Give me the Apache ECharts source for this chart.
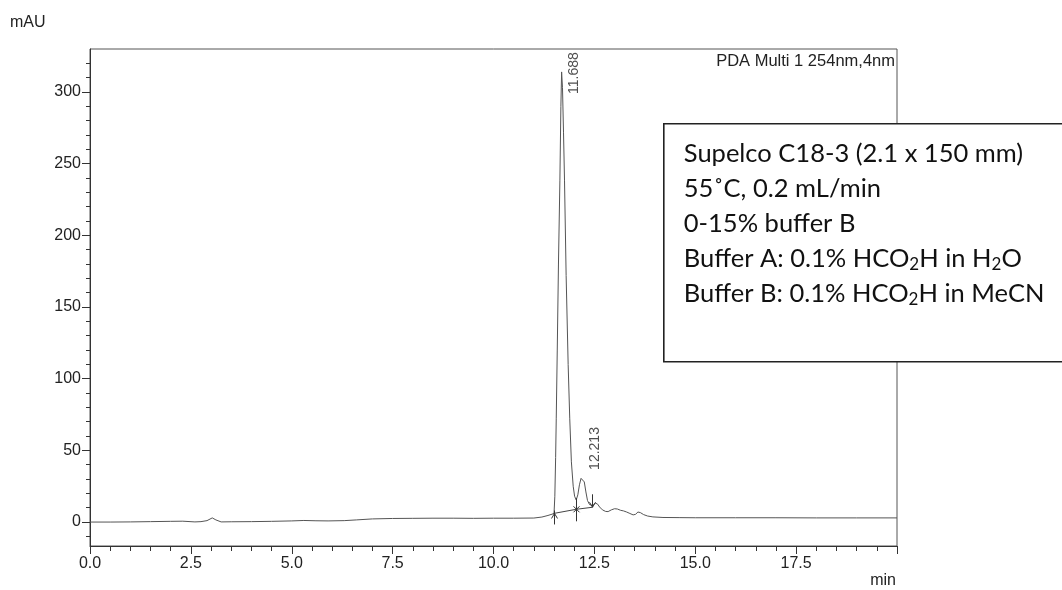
<!DOCTYPE html>
<html>
<head>
<meta charset="utf-8">
<script src="https://cdn.jsdelivr.net/npm/echarts@6/dist/echarts.min.js"></script>
<style>
  html, body { margin: 0; padding: 0; background: #fff; }
  #chart { width: 1062px; height: 590px; }
</style>
</head>
<body>
<div id="chart"></div>
<script>
// PDA 254 nm trace: retention time (min) and absorbance (mAU)
const times = [
  0.0, 0.5, 1.0, 1.5, 2.0, 2.3, 2.6, 2.75, 2.9, 3.03, 3.12, 3.25, 3.5, 4.0, 4.5,
  5.0, 5.3, 5.6, 5.9, 6.3, 6.6, 7.0, 7.5, 8.0, 8.5, 9.0, 9.5, 10.0, 10.5, 11.0,
  11.2, 11.35, 11.45, 11.5, 11.52, 11.54, 11.555, 11.58, 11.61, 11.645, 11.67,
  11.688, 11.71, 11.735, 11.76, 11.8, 11.85, 11.89, 11.93, 11.975, 12.01, 12.05,
  12.09, 12.13, 12.17, 12.213, 12.25, 12.29, 12.33, 12.38, 12.43, 12.48, 12.53,
  12.58, 12.63, 12.7, 12.78, 12.84, 12.92, 13.0, 13.07, 13.15, 13.22, 13.3, 13.38,
  13.46, 13.52, 13.58, 13.64, 13.72, 13.82, 13.95, 14.2, 14.6, 15.0, 16.0, 17.0,
  18.0, 19.0, 20.0
];
const mAU = [
  0.0, 0.0, 0.1, 0.3, 0.5, 0.6, 0.1, 0.3, 1.0, 2.9, 1.5, 0.1, 0.2, 0.3, 0.5,
  0.8, 1.1, 0.9, 0.8, 1.0, 1.5, 2.2, 2.5, 2.6, 2.7, 2.7, 2.6, 2.7, 2.7, 2.8,
  3.5, 4.6, 5.5, 6.0, 18, 45, 72, 120, 180, 238, 290,
  314, 303, 272, 238, 172, 110, 72, 42, 25, 18, 15.4,
  19, 26, 30.5, 31.5, 28, 21, 15, 12.2, 11.8, 12.3, 13.2,
  12.5, 10.5, 8.5, 7.4, 7.3, 8.5, 9.3, 9.1, 8.2, 7.8, 7.0, 6.0,
  5.0, 5.4, 7.0, 6.6, 5.2, 4.2, 3.6, 3.2, 3.1, 3.0, 3.0, 3.0,
  2.9, 2.9, 2.9
];

// Integrated peaks (retention time, apex height)
const peakTimes = [11.688, 12.213];
const peakHeights = [314, 31.5];

// Integration baseline with its start / split / end marks
const baseTimes = [11.49, 12.05, 12.45];
const baseLevels = [6.0, 8.9, 10.3];
const markKinds = ['start', 'split', 'end'];

// Axis ticks and labels
const xLabelValues = [0, 2.5, 5, 7.5, 10, 12.5, 15, 17.5];
const xMajorTicks = [0, 2.5, 5, 7.5, 10, 12.5, 15, 17.5, 20];
const xMinorTicks = [0, 0.5, 1, 1.5, 2, 2.5, 3, 3.5, 4, 4.5, 5, 5.5, 6, 6.5, 7, 7.5, 8, 8.5, 9, 9.5,
  10, 10.5, 11, 11.5, 12, 12.5, 13, 13.5, 14, 14.5, 15, 15.5, 16, 16.5, 17, 17.5, 18, 18.5, 19, 19.5, 20];
const yLabelValues = [0, 50, 100, 150, 200, 250, 300];
const yMinorTicks = [-10, 0, 10, 20, 30, 40, 50, 60, 70, 80, 90, 100, 110, 120, 130, 140, 150, 160,
  170, 180, 190, 200, 210, 220, 230, 240, 250, 260, 270, 280, 290, 300, 310, 320];

const conditionLines = [
  'Supelco C18-3 (2.1 x 150 mm)',
  '55˚C, 0.2 mL/min',
  '0-15% buffer B',
  'Buffer A: 0.1% HCO{s|2}H in H{s|2}O',
  'Buffer B: 0.1% HCO{s|2}H in MeCN'
];

// label placement (pixels from the apex) for each peak's retention-time label
const peakLabelOffsets = [[13, 22], [12, -7]];

const trace = times.map((t, i) => [t, mAU[i]]);
const peaks = peakTimes.map((t, i) => ({
  value: [t, peakHeights[i]],
  label: { position: peakLabelOffsets[i] }
}));
const baseline = baseTimes.map((t, i) => [t, baseLevels[i]]);

const AX = '#333';
const FONT = '"Liberation Sans", Arial, sans-serif';
const X_MIN = 0, X_MAX = 20, Y_MIN = -16.7, Y_MAX = 330;

const chart = echarts.init(document.getElementById('chart'), null, { renderer: 'canvas' });

function axisBase() {
  return { type: 'value', splitLine: { show: false }, axisLine: { show: false, onZero: false } };
}

chart.setOption({
  animation: false,
  backgroundColor: '#fff',
  grid: { left: 90, right: 165, top: 49, bottom: 44, show: true, borderColor: '#555', borderWidth: 1 },
  xAxis: [
    Object.assign(axisBase(), {
      min: X_MIN, max: X_MAX, position: 'bottom',
      axisLine: { show: true, onZero: false, lineStyle: { color: AX, width: 1 } },
      axisTick: { show: true, length: 8, customValues: xMajorTicks, lineStyle: { color: AX } },
      axisLabel: { customValues: xLabelValues, margin: 10, color: '#222', fontSize: 16, fontFamily: FONT,
        formatter: v => v.toFixed(1) }
    }),
    Object.assign(axisBase(), {
      min: X_MIN, max: X_MAX, position: 'bottom',
      axisTick: { show: true, length: 5, customValues: xMinorTicks, lineStyle: { color: AX } },
      axisLabel: { show: false }
    })
  ],
  yAxis: [
    Object.assign(axisBase(), {
      min: Y_MIN, max: Y_MAX, position: 'left',
      axisLine: { show: true, onZero: false, lineStyle: { color: AX, width: 1 } },
      axisTick: { show: true, length: 8, customValues: yLabelValues, lineStyle: { color: AX } },
      axisLabel: { customValues: yLabelValues, margin: 9, color: '#222', fontSize: 16, fontFamily: FONT }
    }),
    Object.assign(axisBase(), {
      min: Y_MIN, max: Y_MAX, position: 'left',
      axisTick: { show: true, length: 4, customValues: yMinorTicks, lineStyle: { color: AX } },
      axisLabel: { show: false }
    })
  ],
  series: [
    {
      name: 'PDA 254nm', type: 'line', data: trace, showSymbol: false, silent: true,
      lineStyle: { color: '#555', width: 1 }, z: 3
    },
    {
      name: 'baseline', type: 'line', data: baseline, showSymbol: false, silent: true,
      lineStyle: { color: '#444', width: 1 }, z: 4
    },
    {
      name: 'marks', type: 'custom', data: baseline, silent: true, z: 5,
      encode: { x: 0, y: 1 },
      renderItem: function (params, api) {
        const p = api.coord([api.value(0), api.value(1)]);
        const x = Math.round(p[0]) + 0.5, y = p[1];
        const st = { stroke: '#333', lineWidth: 1, fill: null };
        const kind = markKinds[params.dataIndex];
        const ch = [];
        if (kind === 'start') {
          ch.push({ type: 'line', shape: { x1: x, y1: y - 3, x2: x, y2: y + 11 }, style: st });
          ch.push({ type: 'polyline', shape: { points: [[x - 3, y + 5], [x, y], [x + 3, y + 5]] }, style: st });
        } else if (kind === 'split') {
          ch.push({ type: 'line', shape: { x1: x, y1: y - 11, x2: x, y2: y + 12 }, style: st });
          ch.push({ type: 'line', shape: { x1: x - 3, y1: y - 3, x2: x + 3, y2: y + 3 }, style: st });
          ch.push({ type: 'line', shape: { x1: x - 3, y1: y + 3, x2: x + 3, y2: y - 3 }, style: st });
        } else {
          ch.push({ type: 'line', shape: { x1: x, y1: y - 13, x2: x, y2: y }, style: st });
          ch.push({ type: 'polyline', shape: { points: [[x - 3, y - 5], [x, y], [x + 3, y - 5]] }, style: st });
        }
        return { type: 'group', children: ch };
      }
    },
    {
      name: 'peak labels', type: 'scatter', data: peaks, symbolSize: 0, silent: true, z: 6,
      label: {
        show: true, rotate: 90, align: 'left', verticalAlign: 'middle',
        color: '#222', fontSize: 14, fontFamily: FONT,
        formatter: p => p.value[0].toFixed(3)
      }
    }
  ],
  graphic: [
    { type: 'text', left: 10, top: 15, style: { text: 'mAU', fontSize: 16, fontFamily: FONT, fill: '#222' } },
    { type: 'text', right: 166, top: 573, style: { text: 'min', fontSize: 16, fontFamily: FONT, fill: '#222' } },
    { type: 'text', right: 167, top: 53, style: { text: 'PDA Multi 1 254nm,4nm', fontSize: 16.5, fontFamily: FONT, fill: '#222' } },
    {
      type: 'group', left: 663, top: 123, z: 100,
      children: [
        { type: 'rect', shape: { x: 0, y: 0, width: 420, height: 238 },
          style: { fill: '#fff', stroke: '#222', lineWidth: 1.6 } },
        { type: 'text', x: 20, y: 12,
          style: {
            text: conditionLines.join('\n'), fill: '#111', fontSize: 25.5, lineHeight: 35,
            fontFamily: 'Lato, "Open Sans", sans-serif',
            rich: { s: { fontSize: 17, fontFamily: 'Lato, sans-serif', fill: '#111', padding: [13, 0, 0, 0] } }
          } }
      ]
    }
  ]
});
</script>
</body>
</html>
